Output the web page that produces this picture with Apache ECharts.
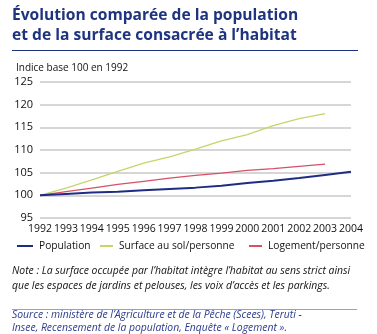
<!DOCTYPE html>
<html><head><meta charset="utf-8">
<script src="https://cdn.jsdelivr.net/npm/echarts@6/dist/echarts.min.js"></script>
<style>html,body{margin:0;padding:0;background:#fff}#c{width:377px;height:334px}</style>
</head><body><div id="c"></div>
<script>
const years = ['1992','1993','1994','1995','1996','1997','1998','1999','2000','2001','2002','2003','2004'];
const population = [100, 100.3, 100.6, 100.8, 101.1, 101.4, 101.7, 102.1, 102.7, 103.2, 103.8, 104.5, 105.2];
const surface = [100, 101.6, 103.4, 105.3, 107.1, 108.5, 110.2, 112.0, 113.4, 115.4, 116.9, 118.0, null];
const logement = [100, 100.8, 101.6, 102.4, 103.1, 103.8, 104.4, 104.9, 105.5, 105.9, 106.4, 106.9, null];
const seriesNames = ['Population', 'Surface au sol/personne', 'Logement/personne'];
const yTicks = {min: 95, max: 125, interval: 5};
const colors = ['#1e2d84', '#c3d66a', '#d65067'];

const FONT = '"Open Sans", "DejaVu Sans", sans-serif';
const legendLeft = [17, 100, 249];
const chart = echarts.init(document.getElementById('c'), null, {renderer: 'canvas'});
chart.setOption({
  animation: false,
  textStyle: {fontFamily: FONT},
  grid: {left: 40, right: 26, top: 82, bottom: 116, containLabel: false},
  xAxis: {
    type: 'category', data: years, boundaryGap: false,
    axisLine: {show: false}, axisTick: {show: false},
    axisLabel: {color: '#111', fontSize: 10.5, margin: 6, interval: 0},
    splitLine: {show: false}
  },
  yAxis: {
    type: 'value', min: yTicks.min, max: yTicks.max, interval: yTicks.interval,
    axisLine: {show: false}, axisTick: {show: false},
    axisLabel: {color: '#111', fontSize: 11, margin: 7},
    splitLine: {lineStyle: {color: '#c8c8c8', width: 1.5}}
  },
  legend: seriesNames.map((n, i) => ({
    left: legendLeft[i], top: 241, padding: 0, itemGap: 0, itemWidth: i === 0 ? 16 : 13, itemHeight: 2, icon: 'rect',
    textStyle: {fontSize: 10.2, color: '#111', fontFamily: FONT, padding: [0, 0, 0, 1]},
    itemStyle: {borderWidth: 0},
    data: [n]
  })),
  series: [
    {name: seriesNames[0], type: 'line', data: population, symbol: 'none', lineStyle: {color: colors[0], width: 2}, itemStyle: {color: colors[0]}, z: 5},
    {name: seriesNames[1], type: 'line', data: surface, symbol: 'none', lineStyle: {color: colors[1], width: 1.3}, itemStyle: {color: colors[1]}},
    {name: seriesNames[2], type: 'line', data: logement, symbol: 'none', lineStyle: {color: colors[2], width: 1.3}, itemStyle: {color: colors[2]}}
  ],
  graphic: [
    {type: 'text', left: 12, top: 6, style: {text: 'Évolution comparée de la population\net de la surface consacrée à l\u2019habitat', fill: '#1f347f', font: 'bold 15.6px ' + FONT, lineHeight: 19.5}},
    {type: 'line', shape: {x1: 12, y1: 50.5, x2: 358, y2: 50.5}, style: {stroke: '#1f347f', lineWidth: 1.2}},
    {type: 'text', left: 16, top: 63, style: {text: 'Indice base 100 en 1992', fill: '#111', font: '10px ' + FONT}},
    {type: 'text', left: 12, top: 263, style: {text: 'Note : La surface occupée par l\u2019habitat intègre l\u2019habitat au sens strict ainsi\nque les espaces de jardins et pelouses, les voix d\u2019accès et les parkings.', fill: '#111', font: 'italic 10.4px ' + FONT, lineHeight: 15.5}},
    {type: 'line', shape: {x1: 12, y1: 309.5, x2: 357, y2: 309.5}, style: {stroke: '#9aa0b8', lineWidth: 1.2}},
    {type: 'text', left: 12, top: 308.5, style: {text: 'Source : ministère de l\u2019Agriculture et de la Pêche (Scees), Teruti -\nInsee, Recensement de la population, Enquête « Logement ».', fill: '#2b3a8c', font: 'italic 10.4px ' + FONT, lineHeight: 13}}
  ]
});
</script></body></html>
